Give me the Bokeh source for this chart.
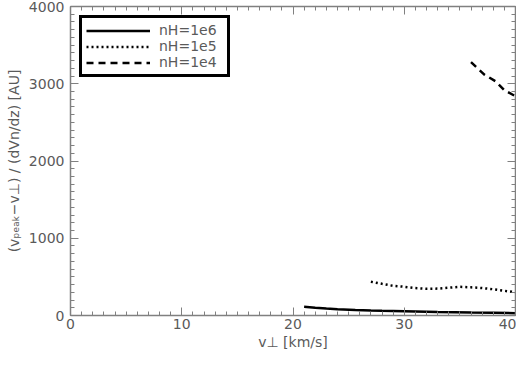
from bokeh.plotting import figure
from bokeh.models import Range1d, LinearAxis, SingleIntervalTicker, Legend, LegendItem, CustomJSTickFormatter
from bokeh.embed import file_html
from bokeh.resources import INLINE

# Data
x_1e6 = [21, 22, 23, 24, 25.6, 27, 28, 30, 33, 36, 38, 40]
y_1e6 = [112, 100, 90, 82, 72, 66, 62, 55, 45, 38, 34, 30]

x_1e5 = [27, 28, 29, 30, 31, 32, 33, 34, 35, 36, 37, 38, 39, 40]
y_1e5 = [437, 410, 384, 372, 355, 346, 348, 360, 371, 365, 355, 340, 320, 300]

x_1e4 = [36, 37.2, 38.2, 39, 39.9, 40]
y_1e4 = [3280, 3118, 3033, 2917, 2846, 2840]

labels = ["nH=1e6", "nH=1e5", "nH=1e4"]

FONT = "DejaVu Sans"
GRAY = "#5a5a5a"
AXC = "#808080"

p = figure(width=516, height=352, output_backend="svg", toolbar_location=None,
           x_range=Range1d(0, 40), y_range=Range1d(0, 4000),
           min_border_left=70, min_border_right=1, min_border_top=6, min_border_bottom=5,
           x_axis_label="v⊥ [km/s]",
           y_axis_label="(vₚₑₐₖ−v⊥) / (dVn/dz) [AU]")
p.outline_line_color = None
p.xgrid.visible = False
p.ygrid.visible = False
p.background_fill_color = "white"
p.border_fill_color = "white"

p.xaxis.ticker = SingleIntervalTicker(interval=10, num_minor_ticks=10)
p.yaxis.ticker = SingleIntervalTicker(interval=1000, num_minor_ticks=10)

def style(ax):
    ax.axis_line_color = AXC
    ax.axis_line_width = 1.5
    ax.major_tick_line_color = AXC
    ax.minor_tick_line_color = AXC
    ax.major_tick_in = 8
    ax.major_tick_out = 0
    ax.minor_tick_in = 4
    ax.minor_tick_out = 0
    ax.major_label_text_font = FONT
    ax.major_label_text_color = GRAY
    ax.major_label_text_font_size = "14px"
    ax.axis_label_text_font = FONT
    ax.axis_label_text_color = GRAY
    ax.axis_label_text_font_size = "14px"
    ax.axis_label_text_font_style = "normal"

for ax in p.xaxis:
    style(ax)
    ax.major_label_standoff = 3
    ax.axis_label_standoff = 2
for ax in p.yaxis:
    style(ax)
    ax.major_label_standoff = 6
    ax.axis_label_standoff = 4

blank = CustomJSTickFormatter(code="return '';")
top = LinearAxis(ticker=SingleIntervalTicker(interval=10, num_minor_ticks=10), formatter=blank)
style(top)
top.major_label_standoff = 0
p.add_layout(top, "above")
right = LinearAxis(ticker=SingleIntervalTicker(interval=1000, num_minor_ticks=10), formatter=blank)
style(right)
right.major_label_standoff = 0
p.add_layout(right, "right")

r1 = p.line(x_1e6, y_1e6, line_color="black", line_width=2.5)
r2 = p.line(x_1e5, y_1e5, line_color="black", line_width=2.5, line_dash="2 3")
r3 = p.line(x_1e4, y_1e4, line_color="black", line_width=2.5, line_dash="7 5")

legend = Legend(items=[LegendItem(label=labels[0], renderers=[r1]),
                       LegendItem(label=labels[1], renderers=[r2]),
                       LegendItem(label=labels[2], renderers=[r3])],
                location="top_left")
legend.border_line_color = "black"
legend.border_line_alpha = 1.0
legend.border_line_width = 3
legend.background_fill_alpha = 1
legend.label_text_font = FONT
legend.label_text_color = GRAY
legend.label_text_font_size = "14px"
legend.glyph_width = 64
legend.glyph_height = 15
legend.label_height = 15
legend.label_width = 64
legend.spacing = 0
legend.label_standoff = 9
legend.padding = 4
legend.margin = 9
p.add_layout(legend)

out = file_html(p, INLINE)
open("out.html", "w").write(out)
